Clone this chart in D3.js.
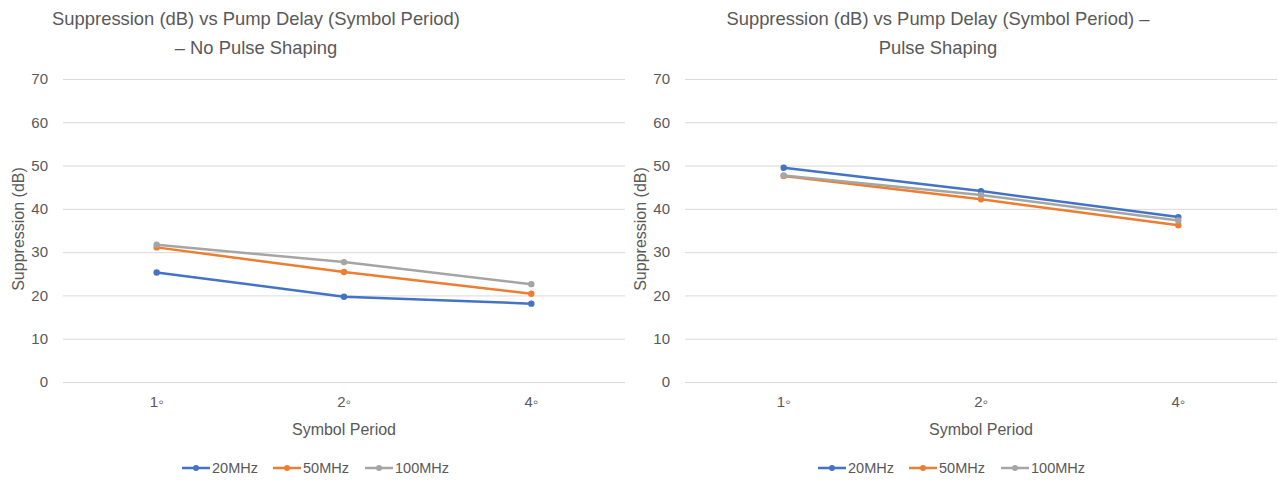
<!DOCTYPE html>
<html>
<head>
<meta charset="utf-8">
<script src="https://cdn.jsdelivr.net/npm/d3@7"></script>
<style>
  body { margin: 0; background: #fff; }
  svg { display: block; font-family: "Liberation Sans", Arial, sans-serif; }
</style>
</head>
<body>
<script>
//chart data
var categories = ["1\u25e6", "2\u25e6", "4\u25e6"];
var seriesNames = ["20MHz", "50MHz", "100MHz"];
var seriesColors = ["#4472C4", "#ED7D31", "#A5A5A5"];
var yTicks = [0, 10, 20, 30, 40, 50, 60, 70];

//no pulse shaping
var noShaping20 = [25.3, 19.7, 18.1];
var noShaping50 = [31.1, 25.4, 20.4];
var noShaping100 = [31.7, 27.7, 22.6];

//pulse shaping
var shaping20 = [49.5, 44.1, 38.1];
var shaping50 = [47.6, 42.2, 36.2];
var shaping100 = [47.7, 43.2, 37.3];

var width = 1278, height = 480;

var svg = d3.select("body")
    .append("svg")
    .attr("width", width)
    .attr("height", height);

//draw the two charts
drawChart({
    left: 63, right: 625, top: 79, bottom: 382,
    titleX: 256, titleLines: ["Suppression (dB) vs Pump Delay (Symbol Period)", "\u2013 No Pulse Shaping"],
    tickX: 48, yTitleX: 18, legendX: 182,
    series: [noShaping20, noShaping50, noShaping100]
});
drawChart({
    left: 685, right: 1277, top: 79, bottom: 382,
    titleX: 938, titleLines: ["Suppression (dB) vs Pump Delay (Symbol Period) \u2013", "Pulse Shaping"],
    tickX: 670, yTitleX: 640, legendX: 818,
    series: [shaping20, shaping50, shaping100]
});

function drawChart(cfg){
    var g = svg.append("g");

    var x = d3.scaleBand()
        .domain(categories)
        .range([cfg.left, cfg.right]);

    var y = d3.scaleLinear()
        .domain([0, 70])
        .range([cfg.bottom, cfg.top]);

    //title
    g.selectAll(".title")
        .data(cfg.titleLines)
        .enter()
        .append("text")
        .attr("x", cfg.titleX)
        .attr("y", function(d, i){ return 25 + i * 29; })
        .attr("text-anchor", "middle")
        .style("font-size", "18.4px")
        .style("fill", "#595959")
        .text(function(d){ return d; });

    //gridlines
    var yAxis = d3.axisLeft(y)
        .tickValues(yTicks)
        .tickSize(-(cfg.right - cfg.left))
        .tickPadding(cfg.left - cfg.tickX);

    var ax = g.append("g")
        .attr("transform", "translate(" + cfg.left + ",0)")
        .call(yAxis);
    ax.select(".domain").remove();
    ax.selectAll(".tick line").attr("stroke", "#D9D9D9").attr("stroke-width", 1);
    ax.selectAll(".tick text")
        .style("font-size", "15px")
        .style("fill", "#595959")
        .style("font-family", "inherit");

    //x axis labels
    var xAxis = d3.axisBottom(x).tickSize(0).tickPadding(14);
    var xa = g.append("g")
        .attr("transform", "translate(0," + cfg.bottom + ")")
        .call(xAxis);
    xa.select(".domain").remove();
    xa.selectAll(".tick text")
        .style("font-size", "15px")
        .style("fill", "#595959")
        .style("font-family", "inherit");

    //axis titles
    g.append("text")
        .attr("x", (cfg.left + cfg.right) / 2)
        .attr("y", 435)
        .attr("text-anchor", "middle")
        .style("font-size", "16px")
        .style("fill", "#595959")
        .text("Symbol Period");

    g.append("text")
        .attr("transform", "translate(" + (cfg.yTitleX + 6) + "," + 229 + ") rotate(-90)")
        .attr("text-anchor", "middle")
        .style("font-size", "16px")
        .style("fill", "#595959")
        .text("Suppression (dB)");

    //lines and markers
    var line = d3.line()
        .x(function(d, i){ return x(categories[i]) + x.bandwidth() / 2; })
        .y(function(d){ return y(d); });

    cfg.series.forEach(function(vals, s){
        g.append("path")
            .datum(vals)
            .attr("d", line)
            .attr("fill", "none")
            .attr("stroke", seriesColors[s])
            .attr("stroke-width", 2.5)
            .attr("stroke-linejoin", "round");
        g.selectAll(".pt" + s)
            .data(vals)
            .enter()
            .append("circle")
            .attr("cx", function(d, i){ return x(categories[i]) + x.bandwidth() / 2; })
            .attr("cy", function(d){ return y(d); })
            .attr("r", 3.2)
            .attr("fill", seriesColors[s]);
    });

    //legend
    var offsets = [0, 91, 183];
    seriesNames.forEach(function(name, s){
        var lx = cfg.legendX + offsets[s];
        g.append("line")
            .attr("x1", lx).attr("x2", lx + 28)
            .attr("y1", 468).attr("y2", 468)
            .attr("stroke", seriesColors[s])
            .attr("stroke-width", 2.5);
        g.append("circle")
            .attr("cx", lx + 14).attr("cy", 468).attr("r", 3)
            .attr("fill", seriesColors[s]);
        g.append("text")
            .attr("x", lx + 30).attr("y", 473)
            .style("font-size", "14.5px")
            .style("fill", "#595959")
            .text(name);
    });
}
</script>
</body>
</html>
